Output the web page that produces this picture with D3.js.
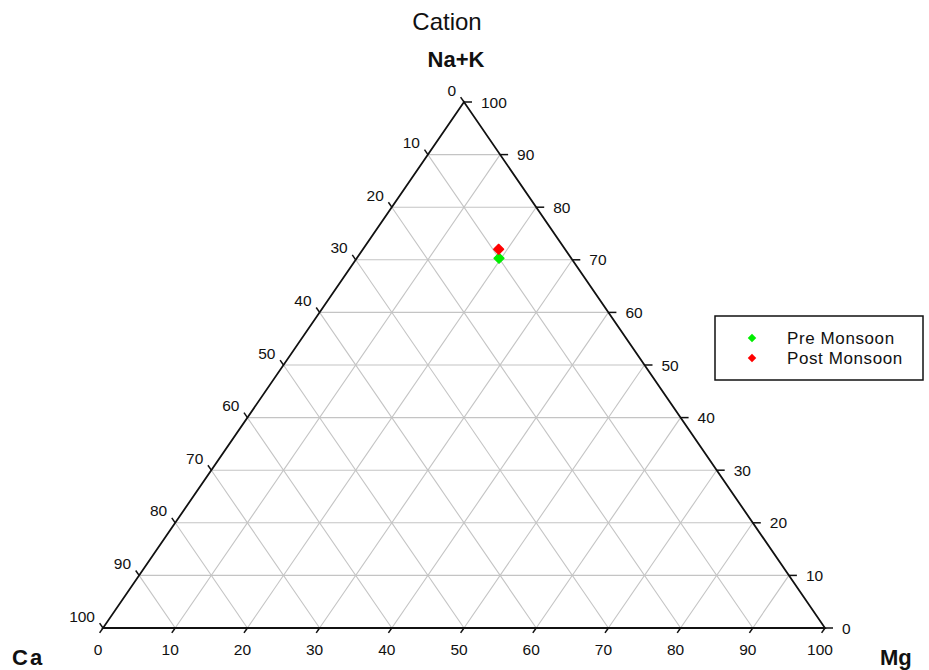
<!DOCTYPE html>
<html>
<head>
<meta charset="utf-8">
<script src="https://cdn.jsdelivr.net/npm/d3@7"></script>
<style>
  body { margin: 0; background: #fff; }
  text { font-family: "Liberation Sans", Arial, sans-serif; fill: #111; }
</style>
</head>
<body>
<div id="chart"></div>
<script>
// Data
const seriesNames = ["Pre Monsoon", "Post Monsoon"];
const seriesColors = ["#00ee00", "#ff0000"];
const naK = [70.3, 72.0];   // Na+K %
const ca  = [10.0, 9.2];    // Ca %
const mg  = [19.7, 18.8];   // Mg %
const tickValues = [0, 10, 20, 30, 40, 50, 60, 70, 80, 90, 100];

// Dimensions
const width = 929, height = 670;

// Scales: horizontal position from (Mg + NaK/2), vertical from NaK
const xScale = d3.scaleLinear().domain([0, 100]).range([103, 825]);
const yScale = d3.scaleLinear().domain([0, 100]).range([628, 102]);

function pos(n, m) {
  return [xScale(m + n / 2), yScale(n)];
}

const svg = d3.select("#chart").append("svg")
    .attr("width", width)
    .attr("height", height);

// Grid
const grid = svg.append("g")
    .attr("stroke", "#c4c4c4")
    .attr("stroke-width", 1.1)
    .attr("fill", "none");

const inner = tickValues.slice(1, -1);
const gridLines = [];
inner.forEach(k => {
  gridLines.push([pos(k, 0), pos(k, 100 - k)]);       // Na+K constant
  gridLines.push([pos(0, k), pos(100 - k, k)]);       // Mg constant
  gridLines.push([pos(0, 100 - k), pos(100 - k, 0)]); // Ca constant
});
grid.selectAll("line")
  .data(gridLines)
  .enter().append("line")
    .attr("x1", d => d[0][0]).attr("y1", d => d[0][1])
    .attr("x2", d => d[1][0]).attr("y2", d => d[1][1]);

// Triangle
const corners = [pos(100, 0), pos(0, 0), pos(0, 100)];
svg.append("path")
    .attr("d", d3.line()(corners) + "Z")
    .attr("fill", "none")
    .attr("stroke", "#111")
    .attr("stroke-width", 1.8);

// Ticks and labels
const ticks = svg.append("g").attr("stroke", "#111").attr("stroke-width", 1.5);
const labels = svg.append("g").style("font-size", "15.5px");
const tl = 6;

// unit direction of the left edge (bottom-left -> top)
const le = [corners[0][0] - corners[1][0], corners[0][1] - corners[1][1]];
const leL = Math.hypot(le[0], le[1]);
// unit direction of the right edge (bottom-right -> top)
const re = [corners[0][0] - corners[2][0], corners[0][1] - corners[2][1]];
const reL = Math.hypot(re[0], re[1]);

tickValues.forEach(v => {
  // Right edge: Na+K
  const r = pos(v, 100 - v);
  ticks.append("line")
      .attr("x1", r[0]).attr("y1", r[1])
      .attr("x2", r[0] + tl + 2).attr("y2", r[1]);
  labels.append("text")
      .attr("x", r[0] + 17).attr("y", r[1])
      .attr("dominant-baseline", "central")
      .text(v);

  // Left edge: Ca (0 at top, 100 at bottom)
  const l = pos(100 - v, 0);
  ticks.append("line")
      .attr("x1", l[0]).attr("y1", l[1])
      .attr("x2", l[0] + re[0] / reL * tl).attr("y2", l[1] + re[1] / reL * tl);
  labels.append("text")
      .attr("x", l[0] - 8).attr("y", l[1] - 12)
      .attr("text-anchor", "end")
      .attr("dominant-baseline", "central")
      .text(v);

  // Bottom edge: Mg
  const b = pos(0, v);
  ticks.append("line")
      .attr("x1", b[0]).attr("y1", b[1])
      .attr("x2", b[0] - le[0] / leL * tl).attr("y2", b[1] - le[1] / leL * tl);
  labels.append("text")
      .attr("x", b[0] - 5).attr("y", b[1] + 27)
      .attr("text-anchor", "middle")
      .text(v);
});

// Titles
svg.append("text")
    .attr("x", 447).attr("y", 30)
    .attr("text-anchor", "middle")
    .style("font-size", "24px")
    .text("Cation");

svg.append("text")
    .attr("x", 456).attr("y", 67)
    .attr("text-anchor", "middle")
    .style("font-size", "22px")
    .style("font-weight", "bold")
    .text("Na+K");

svg.append("text")
    .attr("x", 12).attr("y", 665)
    .style("font-size", "22px")
    .style("font-weight", "bold")
    .style("letter-spacing", "2px")
    .text("Ca");

svg.append("text")
    .attr("x", 880).attr("y", 665)
    .style("font-size", "22px")
    .style("font-weight", "bold")
    .text("Mg");

// Points
const diamond = d3.symbol().type(d3.symbolSquare).size(50);
svg.append("g").selectAll("path")
  .data(seriesNames)
  .enter().append("path")
    .attr("d", diamond)
    .attr("fill", (d, i) => seriesColors[i])
    .attr("stroke", (d, i) => seriesColors[i])
    .attr("stroke-width", 1.2)
    .attr("stroke-linejoin", "round")
    .attr("transform", (d, i) => {
      const p = pos(naK[i], mg[i]);
      return `translate(${p[0]},${p[1]}) rotate(45)`;
    });

// Legend
const legend = svg.append("g");
legend.append("rect")
    .attr("x", 715).attr("y", 316)
    .attr("width", 208).attr("height", 64)
    .attr("fill", "#fff")
    .attr("stroke", "#111")
    .attr("stroke-width", 1.5);

const items = legend.selectAll(".item")
  .data(seriesNames)
  .enter().append("g")
    .attr("class", "item")
    .attr("transform", (d, i) => `translate(752, ${338 + i * 20})`);

items.append("path")
    .attr("d", d3.symbol().type(d3.symbolSquare).size(36))
    .attr("fill", (d, i) => seriesColors[i])
    .attr("transform", "rotate(45)");

items.append("text")
    .attr("x", 35).attr("y", 0)
    .attr("dominant-baseline", "central")
    .style("font-size", "17px")
    .style("letter-spacing", "0.6px")
    .text(d => d);
</script>
</body>
</html>
